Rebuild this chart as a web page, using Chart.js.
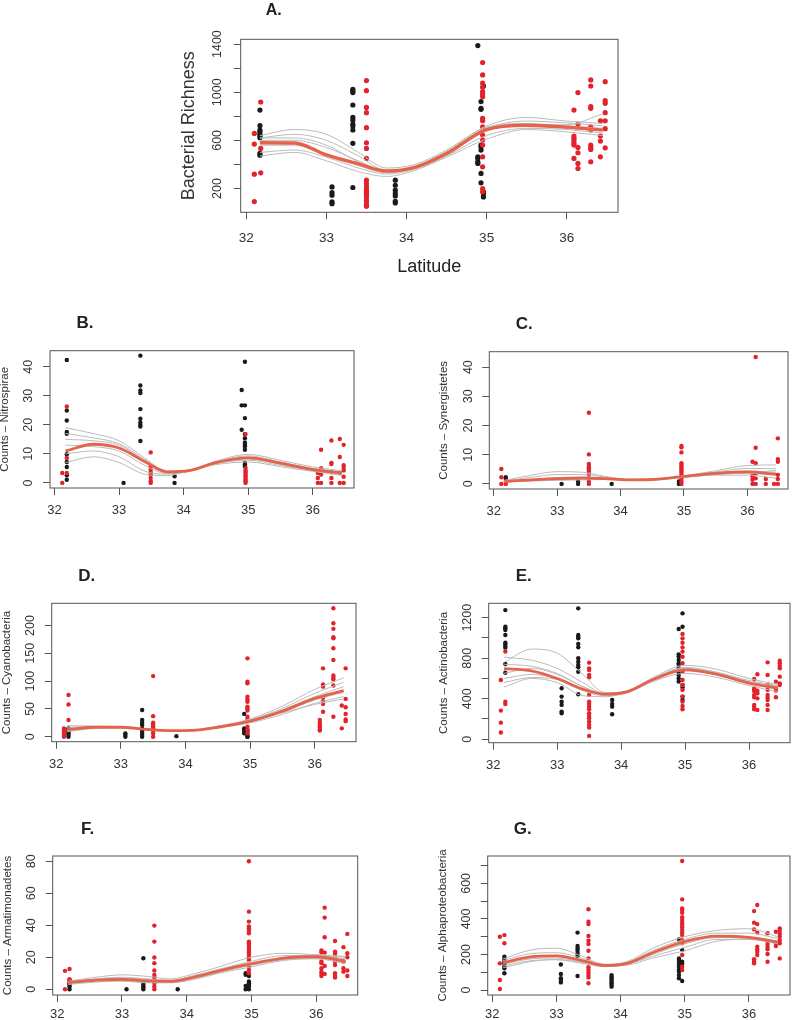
<!DOCTYPE html>
<html>
<head>
<meta charset="utf-8">
<script src="https://cdn.jsdelivr.net/npm/chart.js@4.4.1/dist/chart.umd.min.js"></script>
<style>
body{margin:0;background:#fff;width:794px;height:1020px;position:relative;overflow:hidden}
canvas{position:absolute}
</style>
</head>
<body>
<script>
const knotLat = [32.17, 32.6, 33.0, 33.4, 33.75, 34.1, 34.5, 35.0, 35.5, 36.0, 36.45];
const latTicks = [32, 33, 34, 35, 36];

// A. Bacterial richness
const richTicks = [200, 400, 600, 800, 1000, 1200, 1400];
const richLabels = ["200", "", "600", "", "1000", "", "1400"];
const richFit = [580, 578, 480, 405, 345, 375, 490, 690, 725, 710, 685];
const richBoot = [
    [640, 690, 650, 500, 370, 400, 520, 720, 790, 760, 740],
    [620, 650, 600, 470, 350, 380, 500, 700, 760, 745, 720],
    [600, 600, 540, 430, 340, 380, 510, 710, 740, 720, 700],
    [560, 560, 480, 390, 330, 370, 480, 680, 720, 700, 680],
    [500, 520, 460, 370, 320, 360, 470, 640, 700, 690, 660],
    [470, 500, 430, 340, 300, 350, 460, 610, 690, 670, 640],
    [620, 620, 560, 420, 340, 370, 490, 700, 730, 730, 820]
];
const richRed = [
    [32.1, [658, 569, 319, 91]],
    [32.18, [919, 533, 330]],
    [33.5, [1097, 1013, 874, 830, 705, 580, 533, 450, 269, 241, 213, 186, 172, 158, 144, 130, 102, 88, 61, 52]],
    [34.95, [1247, 1144, 1075, 1041, 1005, 986, 963, 783, 763, 713, 644, 602, 561, 463, 380, 200, 172]],
    [36.09, [852, 636, 616, 597, 575, 561, 450]],
    [36.14, [997, 736, 541, 497, 408, 366]],
    [36.3, [1102, 1052, 880, 866, 713, 686, 561, 541, 525, 422]],
    [36.42, [763, 636, 594, 463]],
    [36.48, [1088, 930, 908, 830, 763, 697, 538]]
];
const richBlack = [
    [32.17, [852, 722, 686, 672, 652, 638, 622, 491, 477]],
    [33.07, [213, 166, 144, 88, 74]],
    [33.33, [1025, 1011, 997, 894, 791, 769, 736, 719, 686, 575, 208]],
    [33.86, [269, 227, 186, 158, 138, 94, 80]],
    [34.89, [1388, 463, 450, 422, 408]],
    [34.93, [922, 866, 858, 561, 547, 519, 325, 247]],
    [34.96, [1052, 172, 158, 130]]
];

// B. Nitrospirae
const nitroTicks = [0, 10, 20, 30, 40];
const nitroFit = [11, 13.3, 12, 7.3, 3.8, 4.3, 7, 8.6, 6.8, 4.6, 3.5];
const nitroBoot = [
    [19, 17, 14.5, 8.5, 4, 4.5, 7.5, 9.8, 7.8, 5.5, 4.2],
    [17, 15.5, 13.5, 8, 3.8, 4.3, 7.2, 9.3, 7.2, 5, 3.8],
    [15, 14.5, 13, 7.5, 3.5, 4.2, 7, 8.8, 6.8, 4.8, 3.5],
    [13, 12.5, 11, 6, 3.2, 4, 6.8, 8.3, 6.4, 4.4, 3.2],
    [10, 11, 9, 4, 3, 4.2, 6.6, 7.8, 6.0, 4.2, 3.0],
    [7, 9, 7, 3, 2.5, 4.4, 6.3, 7.2, 5.6, 4.0, 2.6]
];
const nitroRed = [
    [32.12, [3.4, 0]],
    [32.19, [26.3, 8.6, 3.4]],
    [33.49, [10.5, 5.7, 4.6, 3.7, 2.9, 1.7, 0.6, 0]],
    [34.96, [16.8, 5.1, 4.3, 3.7, 2.9, 2.3, 1.7, 1.1, 0.6, 0]],
    [36.08, [3.4, 1.7, 0]],
    [36.13, [11.4, 5.1, 2.9, 0]],
    [36.29, [14.6, 6.9, 6.5, 3.7, 1.7, 0]],
    [36.42, [15.1, 8.9, 3.4, 0]],
    [36.48, [13.1, 6.1, 5.1, 4.3, 2.1, 0]]
];
const nitroBlack = [
    [32.19, [42.3, 24.9, 21.5, 17.5, 16.9, 9.9, 7.2, 5.5, 2.6, 1.1]],
    [33.07, [0]],
    [33.33, [43.8, 33.5, 31.8, 30.9, 25.4, 22.1, 20.8, 20, 19.4, 14.4]],
    [33.86, [2.3, 0]],
    [34.9, [32, 26.7, 18.3]],
    [34.95, [41.7, 26.7, 22.3, 16.8, 15.4, 13.9, 13.1, 12.6, 11.4, 6.9, 6.3, 5.7]]
];

// C. Synergistetes
const synTicks = [0, 10, 20, 30, 40];
const synFit = [0.8, 1.4, 1.8, 2.0, 1.8, 1.4, 1.5, 2.6, 3.6, 4.1, 3.3];
const synBoot = [
    [1.2, 3, 4.2, 4, 2.6, 1.6, 1.5, 2.8, 4.5, 6.3, 6.5],
    [1.0, 2.3, 3.2, 3.2, 2.3, 1.5, 1.6, 2.7, 4.1, 5.3, 5.2],
    [0.8, 1.6, 2.2, 2.4, 2.0, 1.5, 1.6, 2.6, 3.8, 4.4, 4.0],
    [0.6, 1.2, 1.6, 1.8, 1.6, 1.3, 1.5, 2.5, 3.4, 3.6, 3.0],
    [0.7, 1.0, 1.2, 1.4, 1.5, 1.4, 1.6, 2.4, 3.0, 3.0, 2.0],
    [0.9, 1.5, 2.0, 2.2, 1.9, 1.4, 1.4, 2.2, 3.2, 3.8, 4.6]
];
const synRed = [
    [32.12, [5.1, 2.3, 0]],
    [32.19, [0.8, 0]],
    [33.5, [24.4, 10.1, 6.8, 5.9, 5.4, 4.8, 4.2, 3.1, 1.9, 0.8, 0]],
    [34.96, [13, 12.5, 10.8, 7.1, 6.5, 5.9, 5.4, 4.6, 3.9, 3.1, 1.9, 0.8, 0]],
    [36.08, [7.6, 3.6, 2.5, 1.4, 0]],
    [36.13, [43.5, 12.4, 7.1, 3.6, 1.9, 0]],
    [36.29, [1.7, 0]],
    [36.42, [0]],
    [36.48, [15.6, 8.5, 7.6, 3.1, 1.7, 0]]
];
const synBlack = [
    [32.19, [2.3, 1.7]],
    [33.07, [0]],
    [33.33, [0.8, 0]],
    [33.86, [0]],
    [34.92, [0, 0.8]],
    [34.95, [0, 0.8, 0]]
];

// D. Cyanobacteria
const cyanoTicks = [0, 50, 100, 150, 200];
const cyanoFit = [13, 17, 17, 13, 11, 11.5, 17, 28, 46, 69, 83];
const cyanoBoot = [
    [20, 19, 18, 14, 11, 12, 19, 32, 55, 85, 106],
    [17, 18, 17.5, 13.5, 11, 11.5, 18, 30, 51, 78, 98],
    [14, 17, 17, 13, 11, 11, 17, 28, 48, 72, 90],
    [11, 16, 16.5, 13, 11, 11, 16.5, 27, 44, 66, 80],
    [9, 15, 16, 12.5, 11, 11.5, 16, 25, 40, 60, 72],
    [12, 17, 18, 14, 10, 10.5, 17, 29, 43, 58, 68]
];
const cyanoRed = [
    [32.12, [15, 10.8, 7.2, 3, 0]],
    [32.19, [75, 58, 30]],
    [33.5, [109, 37, 25, 22, 19, 15, 11, 6, 0]],
    [34.96, [141, 99, 96, 72, 67, 63, 54, 51, 47, 36, 31, 18, 12, 6]],
    [36.08, [30, 25, 21, 17, 13, 11]],
    [36.13, [123, 94, 90, 71, 64, 59, 45]],
    [36.29, [231, 204, 194, 179, 177, 159, 138, 110, 106, 103, 92, 36]],
    [36.42, [56, 15]],
    [36.48, [123, 68, 53, 41, 31, 28]]
];
const cyanoBlack = [
    [32.19, [15, 12, 9, 6, 3, 0]],
    [33.07, [6, 3, 0]],
    [33.33, [48, 30, 25, 21, 15, 11, 7, 3, 0]],
    [33.86, [1]],
    [34.91, [41, 15, 12, 9, 6]],
    [34.96, [12, 9, 3, 0, 0]]
];

// E. Actinobacteria
const actTicks = [0, 200, 400, 600, 800, 1000, 1200];
const actLabels = ["0", "", "400", "", "800", "", "1200"];
const actFit = [697, 675, 600, 495, 445, 470, 590, 685, 640, 555, 505];
const actBoot = [
    [760, 890, 850, 640, 460, 470, 600, 710, 660, 570, 520],
    [810, 780, 700, 560, 450, 475, 595, 700, 650, 560, 500],
    [740, 720, 650, 520, 445, 470, 585, 690, 645, 560, 510],
    [650, 700, 640, 520, 450, 465, 580, 680, 635, 550, 500],
    [600, 640, 600, 500, 440, 465, 590, 700, 660, 580, 530],
    [515, 600, 560, 430, 420, 470, 610, 730, 690, 600, 540],
    [560, 610, 590, 480, 430, 460, 570, 650, 610, 530, 470]
];
const actRed = [
    [32.12, [585, 283, 164, 66]],
    [32.19, [865, 371, 348]],
    [33.5, [756, 700, 684, 634, 611, 437, 371, 348, 322, 296, 256, 230, 207, 174, 141, 115, 33]],
    [34.96, [1039, 996, 953, 907, 865, 815, 750, 667, 585, 536, 487, 421, 371, 329, 296]],
    [36.08, [595, 503, 487, 477, 437, 414, 339, 322, 296]],
    [36.13, [641, 480, 454, 404, 289]],
    [36.29, [759, 634, 542, 487, 437, 411, 388, 339, 289]],
    [36.42, [569, 503, 480, 414]],
    [36.48, [776, 750, 723, 700, 618, 552, 536]]
];
const actBlack = [
    [32.19, [1275, 1111, 1095, 1078, 1029, 953, 940, 920, 904, 743, 657]],
    [33.07, [503, 421, 371, 339, 273, 256]],
    [33.33, [1292, 1029, 1012, 996, 940, 907, 799, 766, 733, 710, 667, 444]],
    [33.86, [388, 348, 322, 247]],
    [34.9, [1088, 838, 815, 782, 750, 733, 700, 657, 634, 601, 569]],
    [34.96, [1243, 1111, 536, 510, 421, 388]]
];

// F. Armatimonadetes
const armTicks = [0, 20, 40, 60, 80];
const armFit = [4.2, 5.7, 6.2, 5.2, 5, 7.5, 11.5, 16, 19.5, 20.3, 17.5];
const armBoot = [
    [5, 7.5, 9, 8, 6.5, 9.5, 14, 20, 22.5, 21.5, 20],
    [4.5, 6.5, 7.5, 6.5, 5.5, 8.5, 12.5, 17.5, 21, 21, 19],
    [4, 5.5, 6, 5, 5, 7.5, 11.5, 16, 19.5, 20.5, 18],
    [3.5, 5, 5.5, 4.5, 4.5, 6.5, 10.5, 15, 18.5, 19.5, 17],
    [3, 4.5, 5, 4, 4, 6, 10, 14, 18, 19, 16],
    [4, 6, 7, 6, 5, 7, 11, 15.5, 20, 21.5, 20.5]
];
const armRed = [
    [32.12, [11.5, 0]],
    [32.19, [12.7, 6.3, 4.8]],
    [33.5, [39.8, 29.8, 19.8, 16.3, 11.7, 9, 7.5, 5.8, 3.8, 1.7, 0]],
    [34.96, [80, 48.5, 42.3, 39.2, 38.1, 36.7, 35, 29.8, 28.8, 27.3, 25.6, 24.2, 22.9, 21.5, 20, 18.3, 14.2, 12.1, 10]],
    [36.08, [24.2, 22.9, 17.3, 16.3, 13.1, 11, 9.6, 8.3]],
    [36.13, [51, 44.8, 32.5, 22.9, 14.6, 9.6]],
    [36.29, [30.2, 23.5, 22.5, 20.4, 17.3, 15.2, 10, 8.3, 7.3]],
    [36.42, [26.3, 17.3, 13.1, 11]],
    [36.48, [34.6, 22.5, 20, 11.7, 8.3]]
];
const armBlack = [
    [32.19, [5.8, 3.8, 2.7, 1.7, 0]],
    [33.07, [0]],
    [33.33, [19.4, 3.3, 2.1, 1.3, 0]],
    [33.86, [0]],
    [34.91, [10, 9, 2.1, 0]],
    [34.96, [8.3, 4.8, 3.8, 2.7, 1.7, 0]]
];

// G. Alphaproteobacteria
const alphaTicks = [0, 100, 200, 300, 400, 500, 600, 700];
const alphaLabels = ["0", "", "200", "", "400", "", "600", ""];
const alphaFit = [154, 186, 192, 166, 138, 150, 210, 272, 303, 296, 270];
const alphaBoot = [
    [175, 225, 235, 190, 145, 160, 235, 300, 335, 345, 300],
    [165, 205, 210, 178, 140, 155, 222, 285, 320, 320, 290],
    [155, 190, 195, 168, 138, 150, 212, 275, 305, 300, 275],
    [145, 175, 180, 158, 135, 148, 200, 260, 295, 290, 265],
    [135, 165, 170, 150, 132, 145, 190, 240, 285, 285, 260],
    [125, 160, 172, 155, 135, 140, 180, 220, 275, 285, 265]
];
const alphaRed = [
    [32.12, [300, 150, 56, 6]],
    [32.19, [309, 263]],
    [33.5, [454, 384, 371, 304, 278, 259, 221, 178, 128, 113, 98, 84, 71, 38]],
    [34.96, [726, 510, 459, 450, 435, 409, 394, 379, 366, 353, 338, 323, 309, 281, 263, 197, 131, 113]],
    [36.08, [444, 379, 341, 173, 159, 150]],
    [36.13, [478, 371, 323, 244, 229, 216, 197]],
    [36.29, [319, 259, 244, 229, 203, 159]],
    [36.42, [328, 263, 248]],
    [36.48, [347, 334, 315, 300, 281, 263, 178]]
];
const alphaBlack = [
    [32.19, [188, 174, 159, 146, 131, 122, 94]],
    [33.07, [144, 90, 66, 56, 43]],
    [33.33, [323, 248, 234, 221, 206, 191, 79]],
    [33.86, [84, 75, 66, 56, 47, 38, 28, 19]],
    [34.91, [285, 178, 169, 159, 146, 131, 116, 103, 84, 66]],
    [34.96, [225, 159, 146, 51]]
];

const FONT = "'Liberation Sans', Arial, Helvetica, sans-serif";

function pts(list){
    return list.flatMap(([lat, vals]) => vals.map(v => ({x: lat, y: v})));
}
function curve(vals){
    return knotLat.map((x, i) => ({x: x, y: vals[i]}));
}

// R-like frame, rotated y labels and titles
const rStyle = {
    id: "rStyle",
    afterDraw(chart, args, o){
        const ctx = chart.ctx;
        const a = chart.chartArea;
        const y = chart.scales.y;
        ctx.save();
        ctx.strokeStyle = "#555";
        ctx.lineWidth = 1;
        ctx.strokeRect(a.left, a.top, a.right - a.left, a.bottom - a.top);
        ctx.fillStyle = "#333";
        ctx.textAlign = "center";
        ctx.textBaseline = "middle";
        ctx.font = o.tickSize + "px " + FONT;
        o.ticks.forEach((v, i) => {
            const lab = o.labels ? o.labels[i] : String(v);
            if(!lab) return;
            ctx.save();
            ctx.translate(a.left - o.tickGap, y.getPixelForValue(v));
            ctx.rotate(-Math.PI / 2);
            ctx.fillText(lab, 0, 0);
            ctx.restore();
        });
        ctx.save();
        ctx.font = o.titleSize + "px " + FONT;
        ctx.translate(a.left - o.titleGap, (a.top + a.bottom) / 2);
        ctx.rotate(-Math.PI / 2);
        ctx.fillText(o.yTitle, 0, 0);
        ctx.restore();
        if(o.xTitle){
            ctx.fillStyle = "#222";
            ctx.font = o.titleSize + "px " + FONT;
            ctx.fillText(o.xTitle, (a.left + a.right) / 2, a.bottom + o.xTitleGap);
        }
        ctx.fillStyle = "#222";
        ctx.font = "bold " + o.letterSize + "px " + FONT;
        ctx.fillText(o.letter, a.left + o.letterDx, a.top - o.letterDy);
        ctx.restore();
    }
};

const panels = [
    {letter: "A.", yTitle: "Bacterial Richness", xTitle: "Latitude", box: [240.7, 39.3, 618, 212.3], canvas: [150, 0, 490, 290],
     yMin: 2, yMax: 1440, ticks: richTicks, labels: richLabels, fit: richFit, boot: richBoot, red: richRed, black: richBlack, big: true, xPad: 11},
    {letter: "B.", yTitle: "Counts \u2013 Nitrospirae", box: [50, 350.7, 354, 488], canvas: [0, 305, 380, 220],
     yMin: -1.75, yMax: 45.5, ticks: nitroTicks, fit: nitroFit, boot: nitroBoot, red: nitroRed, black: nitroBlack, xPad: 8},
    {letter: "C.", yTitle: "Counts \u2013 Synergistetes", box: [489.3, 351.7, 788, 489], canvas: [420, 305, 374, 220],
     yMin: -1.75, yMax: 45.3, ticks: synTicks, fit: synFit, boot: synBoot, red: synRed, black: synBlack, xPad: 8},
    {letter: "D.", yTitle: "Counts \u2013 Cyanobacteria", box: [51.7, 603.3, 356, 741.7], canvas: [0, 557, 380, 220],
     yMin: -9, yMax: 240, ticks: cyanoTicks, fit: cyanoFit, boot: cyanoBoot, red: cyanoRed, black: cyanoBlack, xPad: 8},
    {letter: "E.", yTitle: "Counts \u2013 Actinobacteria", box: [488.7, 603.3, 791.7, 742.7], canvas: [420, 557, 374, 220],
     yMin: -34, yMax: 1342, ticks: actTicks, labels: actLabels, fit: actFit, boot: actBoot, red: actRed, black: actBlack, xPad: 8},
    {letter: "F.", yTitle: "Counts \u2013 Armatimonadetes", box: [52.7, 856, 357.7, 995], canvas: [0, 810, 380, 210],
     yMin: -3.6, yMax: 83.3, ticks: armTicks, fit: armFit, boot: armBoot, red: armRed, black: armBlack, xPad: 5},
    {letter: "G.", yTitle: "Counts \u2013 Alphaproteobacteria", box: [487.7, 856, 791.7, 995], canvas: [420, 810, 374, 210],
     yMin: -28, yMax: 754, ticks: alphaTicks, labels: alphaLabels, fit: alphaFit, boot: alphaBoot, red: alphaRed, black: alphaBlack, xPad: 5}
];

function makePanel(p){
    const [cx, cy, cw, ch] = p.canvas;
    const [bl, bt, br, bb] = p.box;
    const cv = document.createElement("canvas");
    cv.width = cw; cv.height = ch;
    cv.style.left = cx + "px"; cv.style.top = cy + "px";
    cv.style.width = cw + "px"; cv.style.height = ch + "px";
    document.body.appendChild(cv);

    const datasets = [];
    datasets.push({
        data: curve(p.fit), showLine: true, borderColor: "#e6634b", borderWidth: p.big ? 3.4 : 2.8,
        pointRadius: 0, cubicInterpolationMode: "monotone", fill: false
    });
    p.boot.forEach(b => datasets.push({
        data: curve(b), showLine: true, borderColor: "#bbbbbb", borderWidth: 1,
        pointRadius: 0, cubicInterpolationMode: "monotone", fill: false
    }));
    datasets.push({
        data: pts(p.red), showLine: false, pointRadius: p.big ? 2.6 : 2.2,
        pointBackgroundColor: "#e2232b", pointBorderWidth: 0
    });
    datasets.push({
        data: pts(p.black), showLine: false, pointRadius: p.big ? 2.6 : 2.2,
        pointBackgroundColor: "#1a1a1a", pointBorderWidth: 0
    });

    new Chart(cv, {
        type: "scatter",
        data: {datasets: datasets},
        options: {
            responsive: false,
            animation: false,
            events: [],
            layout: {padding: {left: 0, top: bt - cy, right: cx + cw - br, bottom: 0}},
            plugins: {
                legend: {display: false},
                tooltip: {enabled: false},
                rStyle: {
                    ticks: p.ticks, labels: p.labels, yTitle: p.yTitle, xTitle: p.xTitle, letter: p.letter,
                    tickSize: 12.5, tickGap: p.big ? 23 : 21,
                    titleSize: p.big ? 18 : 11.5, titleGap: p.big ? 52 : 45, xTitleGap: 55,
                    letterSize: p.big ? 16 : 17, letterDx: p.big ? 33 : 35, letterDy: p.big ? 29 : 27
                }
            },
            scales: {
                x: {
                    type: "linear", min: 31.93, max: 36.64,
                    afterBuildTicks: s => { s.ticks = latTicks.map(v => ({value: v})); },
                    afterFit: s => { s.height = cy + ch - bb; },
                    grid: {drawOnChartArea: false, drawTicks: true, tickLength: 7, color: "#555"},
                    border: {display: false},
                    ticks: {color: "#333", padding: p.xPad, font: {family: FONT, size: p.big ? 13.5 : 13},
                            maxRotation: 0, autoSkip: false, callback: v => String(v)}
                },
                y: {
                    type: "linear", min: p.yMin, max: p.yMax,
                    afterBuildTicks: s => { s.ticks = p.ticks.map(v => ({value: v})); },
                    afterFit: s => { s.width = bl - cx; },
                    grid: {drawOnChartArea: false, drawTicks: true, tickLength: 7, color: "#555"},
                    border: {display: false},
                    ticks: {display: false}
                }
            }
        },
        plugins: [rStyle]
    });
}

panels.forEach(makePanel);
</script>
</body>
</html>
